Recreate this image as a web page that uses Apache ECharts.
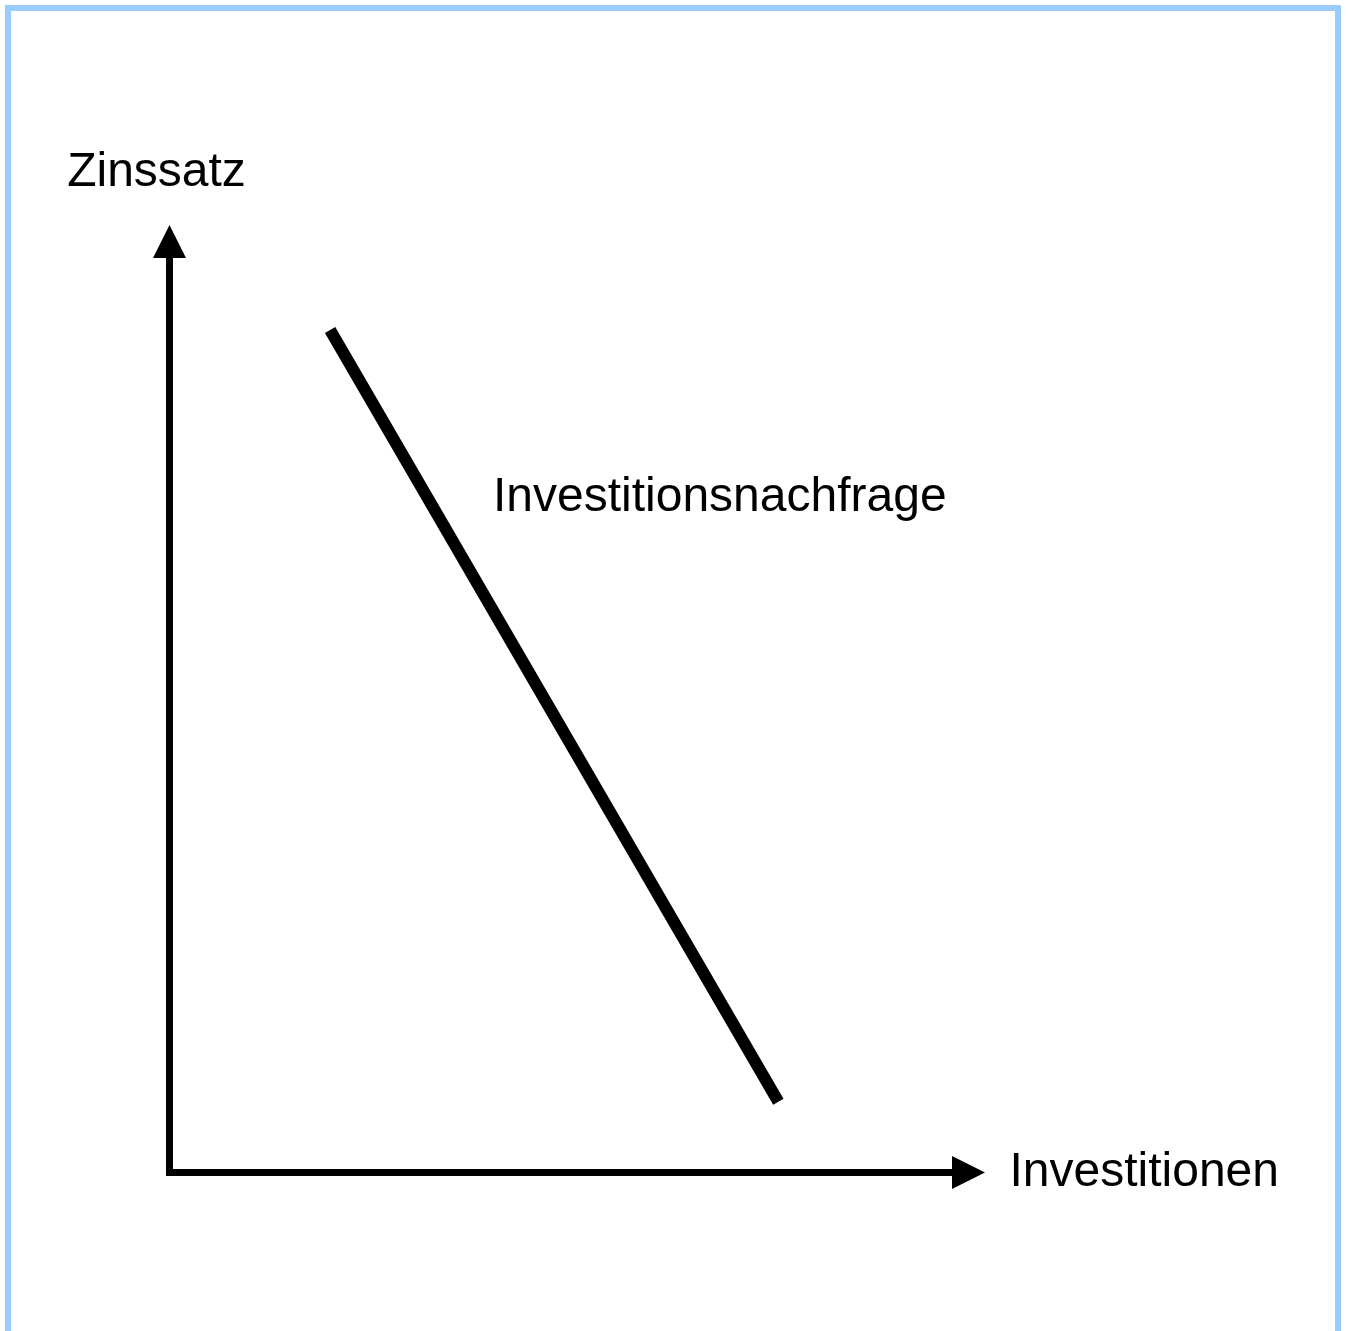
<!DOCTYPE html>
<html>
<head>
<meta charset="utf-8">
<title>Investitionsnachfrage</title>
<script src="https://cdn.jsdelivr.net/npm/echarts@6/dist/echarts.min.js"></script>
<style>
  html, body { margin: 0; padding: 0; background: #fff; }
  #main { width: 1348px; height: 1331px; }
</style>
</head>
<body>
<div id="main"></div>
<script>
// axis titles and curve label
var xAxisTitle = 'Investitionen';
var yAxisTitle = 'Zinssatz';
var curveName = 'Investitionsnachfrage';

// demand curve, two end points (axes 0..100)
var curveX = [20.1, 76.2];
var curveY = [90.5, 7.6];

var font = 'Liberation Sans, Arial, sans-serif';

var chartDom = document.getElementById('main');
var myChart = echarts.init(chartDom);

var axisLineStyle = {
    color: '#000',
    width: 7,
    cap: 'square'
};

var option = {
    animation: false,
    backgroundColor: '#fff',
    grid: {
        left: 169.5,
        top: 241.5,
        width: 799,
        height: 931,
        containLabel: false
    },
    xAxis: {
        type: 'value',
        min: 0,
        max: 100,
        name: xAxisTitle,
        nameLocation: 'end',
        nameGap: 41,
        nameTextStyle: {
            fontFamily: font,
            fontSize: 48,
            color: '#000',
            padding: [0, 0, 2, 0]
        },
        axisLine: {
            show: true,
            symbol: ['none', 'triangle'],
            symbolSize: [33, 33],
            lineStyle: axisLineStyle
        },
        axisTick: { show: false },
        axisLabel: { show: false },
        splitLine: { show: false }
    },
    yAxis: {
        type: 'value',
        min: 0,
        max: 100,
        name: yAxisTitle,
        nameLocation: 'end',
        nameGap: 45,
        nameTextStyle: {
            fontFamily: font,
            fontSize: 48,
            color: '#000',
            padding: [0, 26, 0, 0]
        },
        axisLine: {
            show: true,
            symbol: ['none', 'triangle'],
            symbolSize: [33, 33],
            lineStyle: axisLineStyle
        },
        axisTick: { show: false },
        axisLabel: { show: false },
        splitLine: { show: false }
    },
    graphic: [
        {
            // light blue frame, open at the bottom
            type: 'rect',
            silent: true,
            shape: { x: 8, y: 8, width: 1330, height: 1400 },
            style: { fill: 'none', stroke: '#99ccff', lineWidth: 6 }
        },
        {
            type: 'text',
            left: 493,
            top: 474,
            style: {
                text: curveName,
                font: '48px ' + font,
                fill: '#000'
            }
        }
    ],
    series: [
        {
            name: curveName,
            type: 'line',
            data: curveX.map(function (x, i) { return [x, curveY[i]]; }),
            symbol: 'none',
            silent: true,
            lineStyle: {
                color: '#000',
                width: 12,
                cap: 'butt'
            }
        }
    ]
};

myChart.setOption(option);
</script>
</body>
</html>
